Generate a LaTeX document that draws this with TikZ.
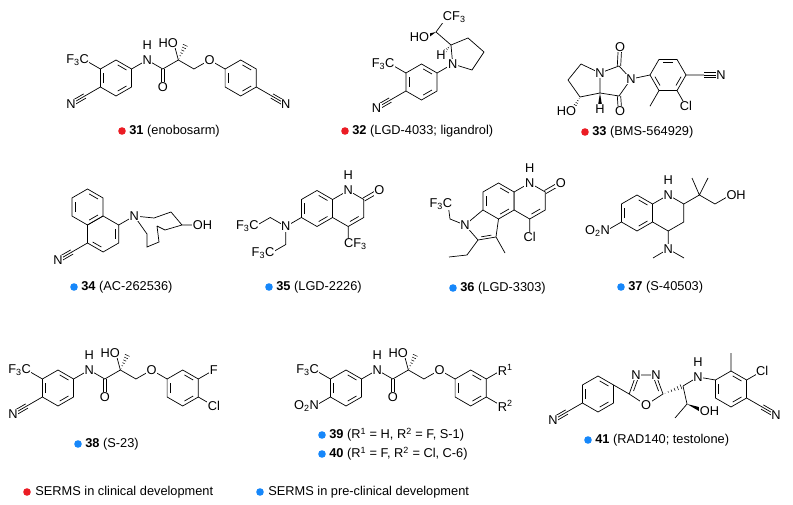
\documentclass[tikz,border=0pt]{standalone}
\usepackage{fontspec}
\setmainfont{Liberation Sans}
\usepackage{tikz}
\usetikzlibrary{calc}

\definecolor{clinred}{RGB}{235,28,36}
\definecolor{preblue}{RGB}{22,135,250}
\newcommand\atomfont{\fontsize{12.8}{14}\selectfont}

% ring drawing: name, centre, angle offset, inner double bonds
\newcommand\hexa[3]{%
  \foreach \k/\a in {1/270,2/330,3/30,4/90,5/150,6/210}
    \coordinate (#1\k) at ($(#2)+(\a+#3:18)$);
  \draw (#11)--(#12)--(#13)--(#14)--(#15)--(#16)--cycle;}
\newcommand\inb[3]{%
  \path ($(#1)!0.78!(#2)$) coordinate (ib1) ($(#1)!0.78!(#3)$) coordinate (ib2);
  \draw[shorten <=2pt,shorten >=2pt] (ib1)--(ib2);}
\newcommand\benz[4]{%
  \hexa{#1}{#2}{#3}
  \foreach \i/\j in {#4} {\inb{#2}{#1\i}{#1\j}}}
\newcommand\db[2]{%
  \draw ($(#1)!1.7pt!90:(#2)$) -- ($(#2)!1.7pt!-90:(#1)$);
  \draw ($(#1)!1.7pt!-90:(#2)$) -- ($(#2)!1.7pt!90:(#1)$);}
\newcommand\tb[2]{%
  \draw (#1)--(#2);
  \draw ($(#1)!2.4pt!90:(#2)$) -- ($(#2)!2.4pt!-90:(#1)$);
  \draw ($(#1)!2.4pt!-90:(#2)$) -- ($(#2)!2.4pt!90:(#1)$);}
\newcommand\hw[2]{%
  \foreach \t in {0.1,0.26,0.42,0.58,0.74,0.9}{%
    \pgfmathsetmacro\w{2.8*\t}
    \draw[line width=0.5pt] ($(#1)!\t!(#2)!\w pt!90:(#2)$) -- ($(#1)!\t!(#2)!\w pt!-90:(#2)$);}}
\newcommand\bw[2]{%
  \fill (#1) -- ($(#2)!2.6pt!90:(#1)$) -- ($(#2)!2.6pt!-90:(#1)$) -- cycle;}
% aryl amide core of 31, 38, 39/40
\newcommand\core[2]{%
  \coordinate (#1ra) at #2;
  \benz{#1a}{#1ra}{0}{1/2,3/4,5/6}
  \path (#1a2) ++(330:18) coordinate (#1n) ++(30:18) coordinate (#1c1)
    ++(330:18) coordinate (#1c2) ++(30:18) coordinate (#1c3)
    ++(330:18) coordinate (#1o) ++(30:18) coordinate (#1b6) ++(30:18) coordinate (#1rb);
  \path (#1c1) ++(90:18) coordinate (#1co);
  \path (#1c2) ++(255:18) coordinate (#1oh);
  \path (#1c2) ++(295:18) coordinate (#1me);
  \path (#1a6) ++(210:18) coordinate (#1cf);
  \benz{#1b}{#1rb}{0}{1/2,3/4,5/6}
  \draw (#1a2)--(#1n)--(#1c1)--(#1c2)--(#1c3)--(#1o)--(#1b6) (#1c2)--(#1oh) (#1a6)--(#1cf);
  \db{#1c1}{#1co}
  \hw{#1c2}{#1me}
  \node[atom] (#1lN) at (#1n) {N};
  \node[atom] (#1lH) at ($(#1n)+(0,-15)$) {H};
  \node[atom] (#1lO) at (#1co) {O};
  \node[atom,anchor=east,xshift=5pt] (#1lHO) at (#1oh) {HO};
  \node[atom] (#1lOe) at (#1o) {O};
  \node[atom,anchor=east,xshift=5pt] (#1lCF) at (#1cf) {F\textsubscript{3}C};}
\newcommand\cpd[5]{%
  \node[capt] (#1) at (#2) {\textbf{#4} #5};
  \fill[#3] ($(#1.west)+(-7pt,0)$) circle (3.8pt);}

\begin{document}
\begin{tikzpicture}[x=1pt,y=-1pt,line width=0.7pt,
    atom/.style={fill=white,inner sep=0.6pt,font=\atomfont},
    capt/.style={anchor=west,inner sep=0pt,font=\atomfont}]
  \useasboundingbox (0,0) rectangle (793,505);

  % 31 enobosarm
  \core{p}{(116,78)}
  \path (pa5) ++(150:18) coordinate (pn1) ++(150:16) coordinate (pn2);
  \path (pb3) ++(30:18) coordinate (pn3) ++(30:16) coordinate (pn4);
  \draw (pa5)--(pn1) (pb3)--(pn3);
  \tb{pn1}{pn2} \tb{pn3}{pn4}
  \node[atom] (pN1) at (pn2) {N};
  \node[atom] (pN2) at (pn4) {N};
  \cpd{c31}{129,131}{clinred}{31}{(enobosarm)}

  % 32 ligandrol
  \coordinate (sr) at (421.5,82);
  \benz{s}{sr}{0}{1/2,3/4,5/6}
  \path (s2) ++(330:18) coordinate (sn);
  \coordinate (sp2) at (451,45);
  \coordinate (sp3) at (468,38);
  \coordinate (sp4) at (484,52);
  \coordinate (sp5) at (472,70);
  \coordinate (scb) at (436,32);
  \coordinate (scf) at (447,17);
  \coordinate (soh) at (425,37);
  \coordinate (sh) at (441,55);
  \path (s6) ++(210:18) coordinate (scf2);
  \path (s5) ++(150:18) coordinate (sn1) ++(150:16) coordinate (sn2);
  \draw (s2)--(sn)--(sp2)--(sp3)--(sp4)--(sp5)--(sn) (sp2)--(scb)--(scf) (s6)--(scf2) (s5)--(sn1);
  \bw{scb}{soh}
  \hw{sp2}{sh}
  \tb{sn1}{sn2}
  \node[atom] (sN) at (sn) {N};
  \node[atom,anchor=west,xshift=-5pt] (sCF) at (scf) {CF\textsubscript{3}};
  \node[atom,anchor=east,xshift=5pt] (sHO) at (soh) {HO};
  \node[atom] (sH) at (sh) {H};
  \node[atom,anchor=east,xshift=5pt] (sCF2) at (scf2) {F\textsubscript{3}C};
  \node[atom] (sN2) at (sn2) {N};
  \cpd{c32}{352,131}{clinred}{32}{(LGD-4033; ligandrol)}

  % 33 BMS-564929
  \coordinate (tn1) at (600,73);
  \coordinate (tc5) at (600,93);
  \coordinate (tc2) at (619,66);
  \coordinate (tn3) at (631,79);
  \coordinate (tc4) at (619,96);
  \coordinate (to2) at (620,47);
  \coordinate (to4) at (620,111);
  \coordinate (tca) at (581,64);
  \coordinate (tcb) at (568,80);
  \coordinate (tcc) at (580,97);
  \coordinate (toh) at (572,111);
  \coordinate (th) at (600,109);
  \coordinate (tr) at (668,75);
  \hexa{t}{tr}{30}
  \inb{tr}{t1}{t6} \inb{tr}{t2}{t3} \inb{tr}{t4}{t5}
  \path (t2) ++(0:18) coordinate (tx1) ++(0:17) coordinate (tx2);
  \path (t4) ++(120:18) coordinate (tme);
  \path (t3) ++(60:18) coordinate (tcl);
  \draw (tn1)--(tc2)--(tn3)--(tc4)--(tc5)--(tn1)--(tca)--(tcb)--(tcc)--(tc5)
        (tn3)--(t5) (t2)--(tx1) (t4)--(tme) (t3)--(tcl);
  \db{tc2}{to2} \db{tc4}{to4}
  \tb{tx1}{tx2}
  \hw{tcc}{toh}
  \bw{tc5}{th}
  \node[atom] (tN1) at (tn1) {N};
  \node[atom] (tN3) at (tn3) {N};
  \node[atom] (tO2) at (to2) {O};
  \node[atom] (tO4) at (to4) {O};
  \node[atom,anchor=east,xshift=5pt] (tHO) at (toh) {HO};
  \node[atom] (tH) at (th) {H};
  \node[atom] (tN) at (tx2) {N};
  \node[atom] (tCl) at (tcl) {Cl};
  \cpd{c33}{592,132}{clinred}{33}{(BMS-564929)}

  % 34 AC-262536
  \coordinate (ura) at (87.5,207);
  \coordinate (urb) at (103.1,234);
  \benz{ua}{ura}{0}{1/2,3/4,5/6}
  \benz{ub}{urb}{0}{2/3,4/5}
  \path (ub2) ++(330:18) coordinate (un);
  \path (ub5) ++(150:18) coordinate (un1) ++(150:16) coordinate (un2);
  \coordinate (ut1) at (154,218);
  \coordinate (ut2) at (171,212);
  \coordinate (ut3) at (182,225);
  \coordinate (ut4) at (165,230);
  \coordinate (ut5) at (157,226);
  \coordinate (ut6) at (147,234);
  \coordinate (ut7) at (147,247);
  \coordinate (ut8) at (159,242);
  \coordinate (uoh) at (197,225);
  \draw (ub2)--(un)--(ut1)--(ut2)--(ut3)--(ut4)--(ut5)
        (un)--(ut6)--(ut7)--(ut8)--(ut5) (ut3)--(uoh) (ub5)--(un1);
  \tb{un1}{un2}
  \node[atom] (uN) at (un) {N};
  \node[atom,anchor=west,xshift=-5pt] (uOH) at (uoh) {OH};
  \node[atom] (uN2) at (un2) {N};
  \cpd{c34}{81,287}{preblue}{34}{(AC-262536)}

  % 35 LGD-2226
  \coordinate (vra) at (317,208.5);
  \coordinate (vrb) at (348.2,208.5);
  \benz{va}{vra}{0}{1/2,3/4,5/6}
  \benz{vb}{vrb}{0}{3/4}
  \path (vb2) ++(330:18) coordinate (vo);
  \path (vb4) ++(90:18) coordinate (vcf);
  \path (va5) ++(150:18) coordinate (vn);
  \path (vn) ++(210:18) coordinate (vu1) ++(150:18) coordinate (vu2);
  \path (vn) ++(90:18) coordinate (vd1) ++(150:18) coordinate (vd2);
  \draw (vb4)--(vcf) (va5)--(vn)--(vu1)--(vu2) (vn)--(vd1)--(vd2);
  \db{vb2}{vo}
  \node[atom] (vN1) at (vb1) {N};
  \node[atom] (vH) at ($(vb1)+(0,-15)$) {H};
  \node[atom] (vO) at (vo) {O};
  \node[atom,anchor=west,xshift=-5pt] (vCF) at (vcf) {CF\textsubscript{3}};
  \node[atom] (vN) at (vn) {N};
  \node[atom,anchor=east,xshift=5pt] (vCF1) at (vu2) {F\textsubscript{3}C};
  \node[atom,anchor=east,xshift=5pt] (vCF2) at (vd2) {F\textsubscript{3}C};
  \cpd{c35}{276,287}{preblue}{35}{(LGD-2226)}

  % 36 LGD-3303
  \coordinate (wra) at (498.5,201);
  \coordinate (wrb) at (529.7,201);
  \benz{wa}{wra}{0}{1/2,3/4,5/6}
  \benz{wb}{wrb}{0}{3/4}
  \path (wb2) ++(330:18) coordinate (wo);
  \path (wb4) ++(90:18) coordinate (wcl);
  \coordinate (wn) at (465,225);
  \coordinate (wc2) at (478,240);
  \coordinate (wc3) at (496,237);
  \coordinate (wpc) at (484,227);
  \coordinate (we1) at (467,255);
  \coordinate (we2) at (449,257);
  \coordinate (wme) at (505,253);
  \coordinate (wch) at (450,219);
  \coordinate (wcf) at (448,204);
  \draw (wa5)--(wn)--(wc2)--(wc3)--(wa4) (wc2)--(we1)--(we2) (wc3)--(wme)
        (wn)--(wch)--(wcf) (wb4)--(wcl);
  \inb{wpc}{wc2}{wc3}
  \db{wb2}{wo}
  \node[atom] (wN1) at (wb1) {N};
  \node[atom] (wH) at ($(wb1)+(0,-15)$) {H};
  \node[atom] (wO) at (wo) {O};
  \node[atom] (wCl) at (wcl) {Cl};
  \node[atom] (wN) at (wn) {N};
  \node[atom,anchor=east,xshift=5pt] (wCF) at (wcf) {F\textsubscript{3}C};
  \cpd{c36}{460,288}{preblue}{36}{(LGD-3303)}

  % 37 S-40503
  \coordinate (xra) at (637,213);
  \coordinate (xrb) at (668.2,213);
  \benz{xa}{xra}{0}{1/2,3/4,5/6}
  \hexa{xb}{xrb}{0}
  \path (xb2) ++(330:18) coordinate (xq);
  \coordinate (xm1) at (692,178);
  \coordinate (xm2) at (708,178);
  \path (xq) ++(30:18) coordinate (xch) ++(330:18) coordinate (xoh);
  \path (xb4) ++(90:18) coordinate (xn);
  \coordinate (xn1) at (653,258);
  \coordinate (xn2) at (684,258);
  \path (xa5) ++(150:18) coordinate (xno);
  \draw (xb2)--(xq)--(xch)--(xoh) (xq)--(xm1) (xq)--(xm2) (xb4)--(xn)
        (xn)--(xn1) (xn)--(xn2) (xa5)--(xno);
  \node[atom] (xN1) at (xb1) {N};
  \node[atom] (xH) at ($(xb1)+(0,-15)$) {H};
  \node[atom,anchor=west,xshift=-5pt] (xOH) at (xoh) {OH};
  \node[atom] (xN) at (xn) {N};
  \node[atom,anchor=east,xshift=5pt] (xNO) at (xno) {O\textsubscript{2}N};
  \cpd{c37}{628,287}{preblue}{37}{(S-40503)}

  % 38 S-23
  \core{q}{(58,388)}
  \path (qa5) ++(150:18) coordinate (qn1) ++(150:16) coordinate (qn2);
  \path (qb2) ++(330:18) coordinate (qf);
  \path (qb3) ++(30:18) coordinate (qcl);
  \draw (qa5)--(qn1) (qb2)--(qf) (qb3)--(qcl);
  \tb{qn1}{qn2}
  \node[atom] (qN2) at (qn2) {N};
  \node[atom] (qF) at (qf) {F};
  \node[atom] (qCl) at (qcl) {Cl};
  \cpd{c38}{85,444}{preblue}{38}{(S-23)}

  % 39 / 40 S-1, C-6
  \core{r}{(346,388)}
  \path (ra5) ++(150:18) coordinate (rno);
  \path (rb2) ++(330:18) coordinate (rr1);
  \path (rb3) ++(30:18) coordinate (rr2);
  \draw (ra5)--(rno) (rb2)--(rr1) (rb3)--(rr2);
  \node[atom,anchor=east,xshift=5pt] (rNO) at (rno) {O\textsubscript{2}N};
  \node[atom,anchor=west,xshift=-5pt] (rR1) at (rr1) {R\textsuperscript{1}};
  \node[atom,anchor=west,xshift=-5pt] (rR2) at (rr2) {R\textsuperscript{2}};
  \cpd{c39}{329,435}{preblue}{39}{(R\textsuperscript{1} = H, R\textsuperscript{2} = F, S-1)}
  \cpd{c40}{329,454}{preblue}{40}{(R\textsuperscript{1} = F, R\textsuperscript{2} = Cl, C-6)}

  % 41 RAD140
  \coordinate (yra) at (598,394);
  \benz{ya}{yra}{0}{1/2,3/4,5/6}
  \path (ya5) ++(150:18) coordinate (yn1) ++(150:16) coordinate (yn2);
  \path (ya2) ++(30:18) coordinate (yca);
  \coordinate (yna) at (636,375);
  \coordinate (ynb) at (656,375);
  \coordinate (ycb) at (663,394);
  \coordinate (yox) at (646,405);
  \coordinate (ypc) at (646,389);
  \coordinate (ych) at (683,386);
  \coordinate (ynh) at (698,377);
  \coordinate (yco) at (687,404);
  \coordinate (yme) at (675,418);
  \coordinate (yoh) at (704,411);
  \coordinate (yrc) at (731,389);
  \benz{yc}{yrc}{0}{1/2,3/4,5/6}
  \path (yc1) ++(270:18) coordinate (yme2);
  \path (yc2) ++(330:18) coordinate (ycl);
  \path (yc3) ++(30:18) coordinate (yn3) ++(30:16) coordinate (yn4);
  \draw (ya5)--(yn1) (ya2)--(yca)--(yna)--(ynb)--(ycb)--(yox)--(yca)
        (ych)--(ynh)--(yc6) (ych)--(yco)--(yme) (yc1)--(yme2) (yc2)--(ycl) (yc3)--(yn3);
  \inb{ypc}{yca}{yna} \inb{ypc}{ynb}{ycb}
  \tb{yn1}{yn2} \tb{yn3}{yn4}
  \hw{ycb}{ych}
  \bw{yco}{yoh}
  \node[atom] (yN1) at (yn2) {N};
  \node[atom] (yNa) at (yna) {N};
  \node[atom] (yNb) at (ynb) {N};
  \node[atom] (yO) at (yox) {O};
  \node[atom] (yNH) at (ynh) {N};
  \node[atom] (yH) at ($(ynh)+(0,-15)$) {H};
  \node[atom,anchor=west,xshift=-5pt] (yOH) at (yoh) {OH};
  \node[atom] (yCl) at (ycl) {Cl};
  \node[atom] (yN4) at (yn4) {N};
  \cpd{c41}{595,440}{preblue}{41}{(RAD140; testolone)}

  % legend
  \node[capt] (lg1) at (35,492) {SERMS in clinical development};
  \fill[clinred] ($(lg1.west)+(-8pt,0)$) circle (3.8pt);
  \node[capt] (lg2) at (268,492) {SERMS in pre-clinical development};
  \fill[preblue] ($(lg2.west)+(-8pt,0)$) circle (3.8pt);
\end{tikzpicture}
\end{document}
